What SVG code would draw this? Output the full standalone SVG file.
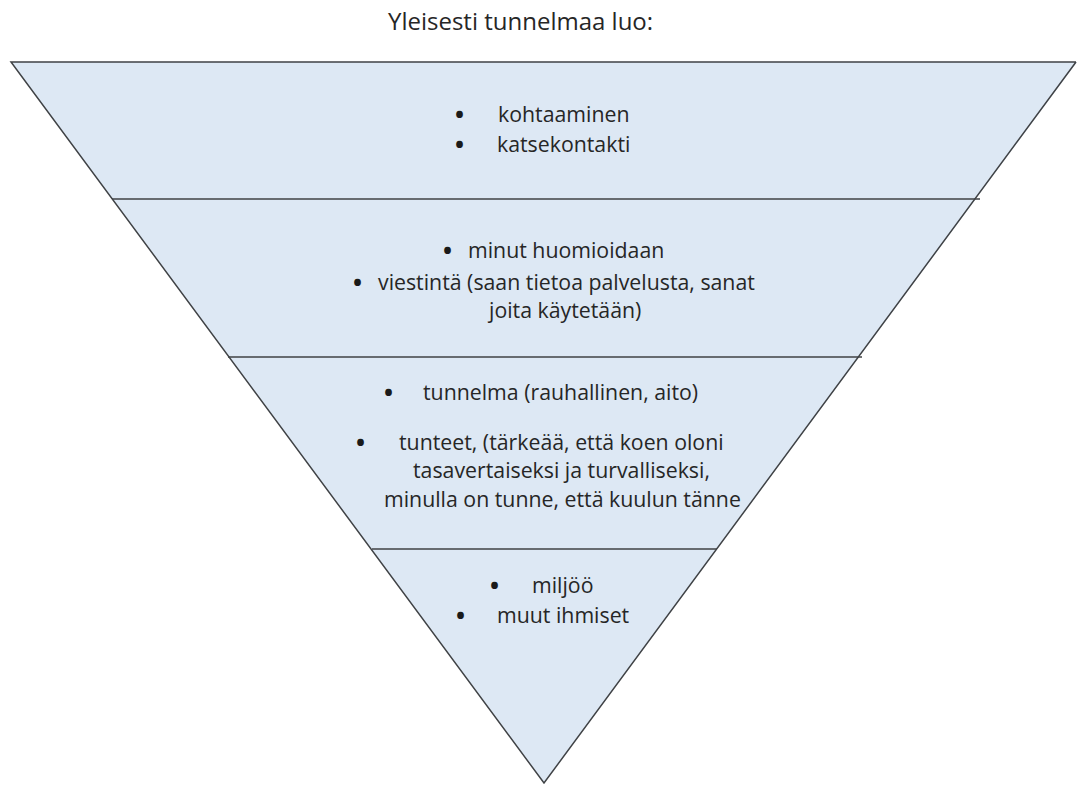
<svg xmlns="http://www.w3.org/2000/svg" width="1077" height="785" viewBox="0 0 1077 785">
  <style>
    .t { font-family: "Open Sans", "Liberation Sans", sans-serif; font-size: 21.3px; fill: #262626; }
    .title { font-size: 24px; }
    .b { font-family: "Open Sans", "Liberation Sans", sans-serif; font-size: 24px; font-weight: bold; fill: #1a1a1a; }
    .band { fill: #dde8f4; stroke: none; }
    .edge { fill: none; stroke: #3f4245; stroke-width: 1.5; stroke-linejoin: miter; }
    .divider { stroke: #3f4245; stroke-width: 1.5; }
  </style>
  <rect width="1077" height="785" fill="#ffffff"/>

  <text class="t title" x="388" y="30">Yleisesti tunnelmaa luo:</text>

  <!-- inverted pyramid body -->
  <g id="pyramid">
    <polygon class="band" points="11,62 1077,62 544,783"/>
    <polyline class="edge" points="1076,62 11,62 544,783 1076,62"/>
  </g>

  <!-- dividers between levels -->
  <g id="dividers">
    <line class="divider" x1="112" y1="199" x2="980" y2="199"/>
    <line class="divider" x1="228" y1="357" x2="862" y2="357"/>
    <line class="divider" x1="372" y1="549" x2="717" y2="549"/>
  </g>

  <g id="level1">
    <text class="b" x="455" y="123">•</text>
    <text class="t" x="498" y="122">kohtaaminen</text>
    <text class="b" x="455" y="153">•</text>
    <text class="t" x="497" y="152">katsekontakti</text>
  </g>

  <g id="level2">
    <text class="b" x="443" y="259">•</text>
    <text class="t" x="468" y="258">minut huomioidaan</text>
    <text class="b" x="353" y="291">•</text>
    <text class="t" x="378" y="290">viestintä (saan tietoa palvelusta, sanat</text>
    <text class="t" x="489" y="318">joita käytetään)</text>
  </g>

  <g id="level3">
    <text class="b" x="384" y="401">•</text>
    <text class="t" x="423" y="400">tunnelma (rauhallinen, aito)</text>
    <text class="b" x="356" y="451">•</text>
    <text class="t" x="399" y="450">tunteet, (tärkeää, että koen oloni</text>
    <text class="t" x="413" y="478">tasavertaiseksi ja turvalliseksi,</text>
    <text class="t" x="384" y="507">minulla on tunne, että kuulun tänne</text>
  </g>

  <g id="level4">
    <text class="b" x="490" y="594">•</text>
    <text class="t" x="532" y="593">miljöö</text>
    <text class="b" x="456" y="624">•</text>
    <text class="t" x="497" y="623">muut ihmiset</text>
  </g>
</svg>
